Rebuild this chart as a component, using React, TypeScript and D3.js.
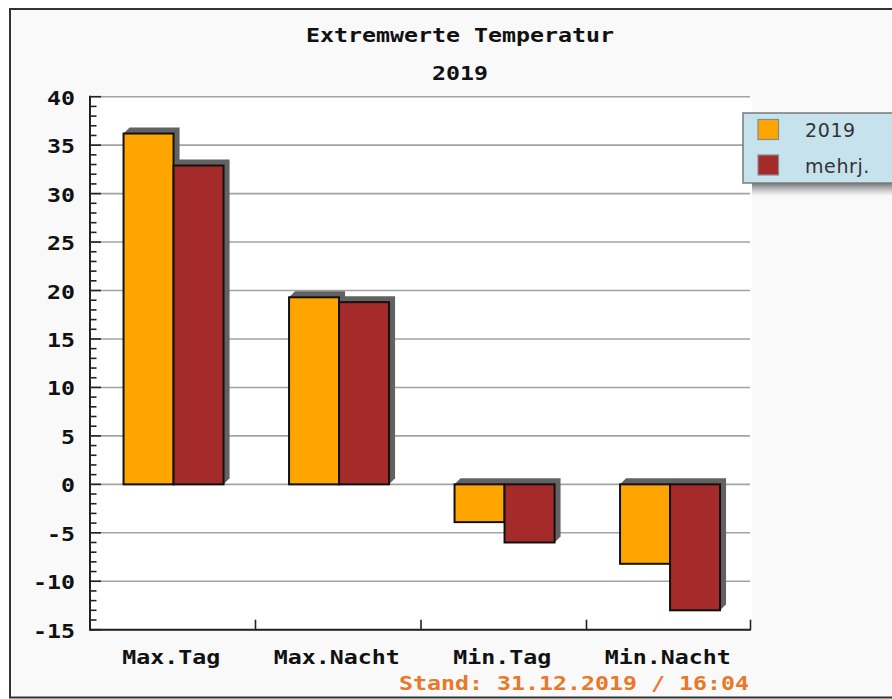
import React from "react";
import * as d3 from "d3";

const categories = ["Max.Tag", "Max.Nacht", "Min.Tag", "Min.Nacht"];
const seriesNames = ["2019", "mehrj."];
const values2019 = [36.2, 19.3, -3.9, -8.2];
const valuesMehrj = [32.9, 18.8, -6.0, -13.0];
const seriesColors = ["#FFA500", "#A52A2A"];
const yTicks = [40, 35, 30, 25, 20, 15, 10, 5, 0, -5, -10, -15];
const title = "Extremwerte Temperatur";
const subtitle = "2019";
const footer = "Stand: 31.12.2019 / 16:04";

const W = 892;
const H = 699;
const plot = { left: 90, right: 752, top: 96.7, bottom: 629.7 };
const MONO = "'DejaVu Sans Mono', 'Liberation Mono', monospace";
const CHAR_W = 14;

function MonoText(props: { x: number; y: number; text: string; anchor?: string; fill?: string; size?: number }) {
  const { x, y, text, anchor = "middle", fill = "#111", size = 19 } = props;
  return (
    <text
      x={x}
      y={y}
      textAnchor={anchor}
      fontFamily={MONO}
      fontWeight="bold"
      fontSize={size}
      fill={fill}
      textLength={text.length * CHAR_W}
      lengthAdjust="spacingAndGlyphs"
    >
      {text}
    </text>
  );
}

export default function App() {
  const y = d3.scaleLinear().domain([-15, 40]).range([plot.bottom, plot.top]);
  const x0 = d3.scaleBand<string>().domain(categories).range([plot.left, plot.right]).padding(0);
  const groupW = 100;
  const x1 = d3.scaleBand<string>().domain(seriesNames).range([0, groupW]).padding(0);
  const seriesValues = [values2019, valuesMehrj];
  const d = 6;
  const minorTicks = d3.range(-15, 41, 1);

  const bars: React.ReactNode[] = [];
  categories.forEach((cat, ci) => {
    seriesNames.forEach((s, si) => {
      const v = seriesValues[si][ci];
      const xa = (x0(cat) as number) + (x0.bandwidth() - groupW) / 2 + (x1(s) as number) + 0.8;
      const xb = xa + x1.bandwidth();
      const top = Math.min(y(v), y(0));
      const bot = Math.max(y(v), y(0));
      const pts = [
        [xa, top],
        [xa + d, top - d],
        [xb + d, top - d],
        [xb + d, bot - d],
        [xb, bot],
      ]
        .map((p) => p.join(","))
        .join(" ");
      bars.push(<polygon key={`s${ci}${si}`} points={pts} fill="#626262" />);
      bars.push(
        <rect
          key={`b${ci}${si}`}
          x={xa}
          y={top}
          width={xb - xa}
          height={bot - top}
          fill={seriesColors[si]}
          stroke="#111"
          strokeWidth={2}
        />
      );
    });
  });

  return (
    <svg width={W} height={H} style={{ position: "absolute", left: 0, top: 0 }}>
      <defs>
        <linearGradient id="legShadow" x1="0" y1="0" x2="0" y2="1">
          <stop offset="0" stopColor="#6a6a6a" stopOpacity={0.95} />
          <stop offset="1" stopColor="#9a9a9a" stopOpacity={0} />
        </linearGradient>
      </defs>
      <rect x={0} y={0} width={W} height={H} fill="#ffffff" />
      <rect x={10} y={9} width={W + 10} height={688.5} fill="#f9f9f9" stroke="#333" strokeWidth={2} />
      <rect x={plot.left} y={plot.top} width={plot.right - plot.left} height={plot.bottom - plot.top} fill="#ffffff" />

      <MonoText x={460} y={42} text={title} />
      <MonoText x={460} y={80} text={subtitle} />

      {/* gridlines */}
      {yTicks.map((t) => (
        <line key={`g${t}`} x1={plot.left} x2={750} y1={y(t)} y2={y(t)} stroke="#a3a3a3" strokeWidth={1.6} />
      ))}

      {/* y labels */}
      {yTicks.map((t) => (
        <MonoText key={`l${t}`} x={75} y={y(t) + 8} text={String(t)} anchor="end" />
      ))}

      {/* minor/major ticks */}
      {minorTicks.map((t) => (
        <line
          key={`t${t}`}
          x1={plot.left}
          x2={plot.left + (t % 5 === 0 ? 11 : 6.5)}
          y1={y(t)}
          y2={y(t)}
          stroke="#222"
          strokeWidth={1.6}
        />
      ))}

      {bars}

      {/* axes */}
      <line x1={plot.left} x2={plot.left} y1={plot.top - 1} y2={plot.bottom + 1} stroke="#222" strokeWidth={2} />
      <line x1={plot.left} x2={plot.right - 1} y1={plot.bottom} y2={plot.bottom} stroke="#222" strokeWidth={2} />
      {categories.map((c, i) => {
        const xe = (x0(c) as number) + x0.bandwidth();
        const xt = i === categories.length - 1 ? xe - 1.5 : xe;
        return <line key={`ct${c}`} x1={xt} x2={xt} y1={plot.bottom} y2={plot.bottom - 10} stroke="#222" strokeWidth={1.6} />;
      })}
      {categories.map((c) => (
        <MonoText key={`cl${c}`} x={(x0(c) as number) + x0.bandwidth() / 2 - 1.5} y={664} text={c} />
      ))}

      <MonoText x={749} y={690} text={footer} anchor="end" fill="#E8782A" />

      {/* legend */}
      <rect x={752} y={183} width={140} height={13} fill="url(#legShadow)" />
      <rect x={743} y={113} width={160} height={70} fill="#C6E3ED" stroke="#7a7a7a" strokeWidth={1.5} />
      {seriesNames.map((s, i) => (
        <g key={`lg${s}`}>
          <rect x={758} y={119.5 + i * 35.5} width={20.5} height={20} fill={seriesColors[i]} stroke="#8a8a8a" strokeWidth={1.2} />
          <text
            x={805}
            y={137 + i * 35.5}
            fontFamily="'DejaVu Sans', Verdana, sans-serif"
            fontSize={19}
            fill="#333"
            letterSpacing={0.6}
          >
            {s}
          </text>
        </g>
      ))}
    </svg>
  );
}
